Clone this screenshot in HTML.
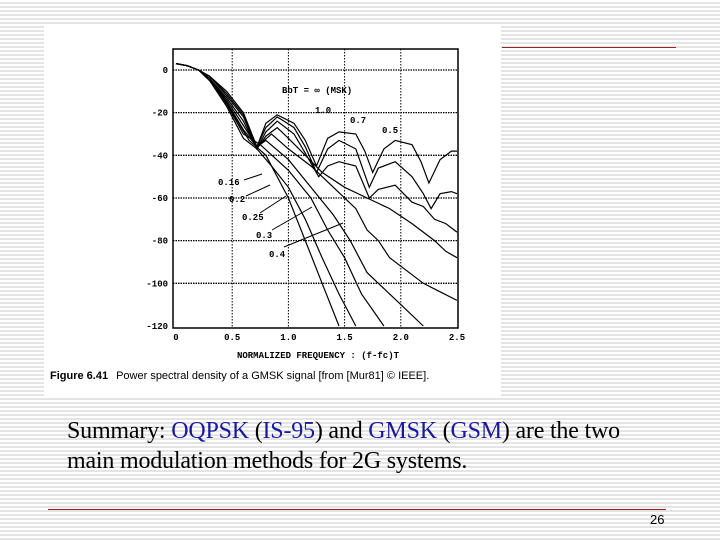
<!DOCTYPE html>
<html><head><meta charset="utf-8"><style>
body{margin:0;width:720px;height:540px;overflow:hidden;position:relative;font-family:"Liberation Serif",serif;
background:repeating-linear-gradient(to bottom,#fff 0px,#fff 2px,#e4e4e4 2px,#e4e4e4 4px);}
.fig{position:absolute;left:44px;top:24px;width:457px;height:374px;background:#fff;}
.sum{position:absolute;left:67px;top:416px;font-size:24px;line-height:30px;color:#000;font-family:"Liberation Serif",serif;letter-spacing:-0.2px}
.b{color:#1a1a9a}
</style></head><body>
<div class="fig"></div>
<div style="position:absolute;left:502px;top:47px;width:174px;height:1px;background:#a02020"></div>
<div style="position:absolute;left:48px;top:509px;width:618px;height:1px;background:#a02020"></div>
<div style="position:absolute;left:650px;top:512px;font:13px 'Liberation Sans',sans-serif">26</div>
<div class="sum">Summary: <span class="b">OQPSK</span> (<span class="b">IS-95</span>) and <span class="b">GMSK</span> (<span class="b">GSM</span>) are the two<br>main modulation methods for 2G systems.</div>
<svg id="chart" width="720" height="540" style="position:absolute;left:0;top:0" font-family="Liberation Mono, monospace"></svg>
<script>
const xTicks=[0,0.5,1.0,1.5,2.0,2.5];
const xTickLabels=["0","0.5","1.0","1.5","2.0","2.5"];
const yTicks=[0,-20,-40,-60,-80,-100,-120];
const yTickLabels=["0","-20","-40","-60","-80","-100","-120"];
const fMSK=[0,0.1,0.2,0.3,0.45,0.6,0.72,0.8,0.9,1.05,1.15,1.25,1.35,1.45,1.6,1.68,1.75,1.85,1.95,2.1,2.18,2.25,2.35,2.45,2.5];
const dMSK=[3,2,0,-3,-10,-20,-36,-25,-21,-25,-33,-45,-32,-29,-30,-38,-48,-37,-33,-35,-43,-53,-42,-38,-38];
const f10=[0,0.1,0.2,0.3,0.45,0.6,0.72,0.8,0.9,1.05,1.15,1.25,1.35,1.45,1.6,1.72,1.8,1.95,2.1,2.2,2.27,2.35,2.45,2.5];
const d10=[3,2,0,-3,-11,-21,-36,-27,-22,-27,-36,-48,-37,-33,-37,-55,-46,-43,-50,-58,-65,-58,-57,-58];
const f07=[0,0.1,0.2,0.3,0.45,0.6,0.72,0.8,0.9,1.05,1.15,1.27,1.35,1.45,1.6,1.72,1.8,1.95,2.1,2.2,2.3,2.4,2.5];
const d07=[3,2,0,-3,-12,-22,-37,-29,-24,-30,-39,-50,-45,-43,-45,-60,-56,-54,-62,-64,-70,-72,-76];
const f05=[0,0.1,0.2,0.3,0.45,0.6,0.72,0.8,0.9,1.0,1.15,1.3,1.5,1.7,1.9,2.1,2.3,2.4,2.5];
const d05=[3,2,0,-4,-13,-24,-37,-31,-27,-32,-40,-48,-55,-60,-65,-72,-80,-85,-88];
const f04=[0,0.1,0.2,0.3,0.45,0.6,0.72,0.85,1.0,1.2,1.4,1.6,1.7,1.8,1.9,2.0,2.2,2.35,2.5];
const d04=[3,2,0,-4,-14,-26,-36,-30,-37,-45,-55,-65,-75,-80,-88,-92,-100,-104,-108];
const f03=[0,0.1,0.2,0.3,0.45,0.6,0.72,0.8,1.0,1.2,1.4,1.55,1.7,1.8,2.0,2.2];
const d03=[3,2,0,-4,-15,-28,-36,-33,-42,-55,-68,-80,-95,-100,-110,-120];
const f025=[0,0.1,0.2,0.3,0.45,0.6,0.75,1.0,1.2,1.35,1.5,1.65,1.85];
const d025=[3,2,0,-4,-16,-30,-35,-47,-60,-75,-88,-105,-120];
const f02=[0,0.1,0.2,0.3,0.45,0.6,0.72,0.85,1.0,1.15,1.3,1.45,1.6];
const d02=[3,2,0,-5,-17,-32,-37,-45,-55,-70,-88,-105,-120];
const f016=[0,0.1,0.2,0.3,0.4,0.5,0.65,0.8,1.0,1.15,1.3,1.45];
const d016=[3,2,0,-5,-12,-20,-33,-40,-60,-80,-100,-120];
const seriesF=[fMSK,f10,f07,f05,f04,f03,f025,f02,f016];
const seriesD=[dMSK,d10,d07,d05,d04,d03,d025,d02,d016];
const seriesNames=["msk","bt-1.0","bt-0.7","bt-0.5","bt-0.4","bt-0.3","bt-0.25","bt-0.2","bt-0.16"];
const NS="http://www.w3.org/2000/svg";
const svg=document.getElementById('chart');
const xs=f=>176+f*112.4, ys=d=>70-d*2.133;
function mk(tag,attrs,parent){const e=document.createElementNS(NS,tag);for(const k in attrs)e.setAttribute(k,attrs[k]);(parent||svg).appendChild(e);return e;}
const frame=mk('rect',{x:173,y:49,width:285,height:279,fill:'none',stroke:'#000','stroke-width':1.5});


xTicks.forEach((v,i)=>{
  if(i>0&&i<xTicks.length-1){const g=mk('line',{x1:xs(v),x2:xs(v),y1:49,y2:328,stroke:'#000','stroke-dasharray':'1.5 1.5','stroke-width':1});
  
  }
  const t=mk('text',{x:xs(v),y:340,'font-size':9,'font-weight':'bold','text-anchor':'middle'});t.textContent=xTickLabels[i];
  
  
});
yTicks.forEach((v,i)=>{
  if(i<yTicks.length-1){const g=mk('line',{x1:173,x2:458,y1:ys(v),y2:ys(v),stroke:'#000','stroke-dasharray':'1.5 1','stroke-width':1.3});
  
  }
  const t=mk('text',{x:168,y:ys(v)+3,'font-size':9,'font-weight':'bold','text-anchor':'end'});t.textContent=yTickLabels[i];
  
  
});
seriesF.forEach((fa,i)=>{
  const pts=fa.map((f,j)=>xs(f).toFixed(1)+','+ys(seriesD[i][j]).toFixed(1)).join(' ');
  const p=mk('polyline',{points:pts,fill:'none',stroke:'#000','stroke-width':1.2});
  
  
});
const labels=[["BbT = ∞ (MSK)",282,93],["1.0",315,113],["0.7",350,123],["0.5",382,133],["0.16",218,185],["0.2",229,202],["0.25",242,220],["0.3",256,238],["0.4",269,257]];
labels.forEach(l=>{const t=mk('text',{x:l[1],y:l[2],'font-size':9,'font-weight':'bold'});t.textContent=l[0];
  
  });
[[244,180,262,174],[246,196,270,185],[260,213,286,196],[272,230,312,207],[284,247,343,223]].forEach(a=>{const l=mk('line',{x1:a[0],y1:a[1],x2:a[2],y2:a[3],stroke:'#000','stroke-width':1});
  
  });
const xt=mk('text',{x:318,y:358,'font-size':9,'font-weight':'bold','text-anchor':'middle'});xt.textContent='NORMALIZED FREQUENCY : (f-fc)T';


const cap=mk('text',{x:50,y:379,'font-size':11,'font-family':'Liberation Sans, sans-serif'});
cap.innerHTML='<tspan font-weight="bold">Figure 6.41</tspan><tspan dx="8">Power spectral density of a GMSK signal [from [Mur81] © IEEE].</tspan>';


</script>
</body></html>
